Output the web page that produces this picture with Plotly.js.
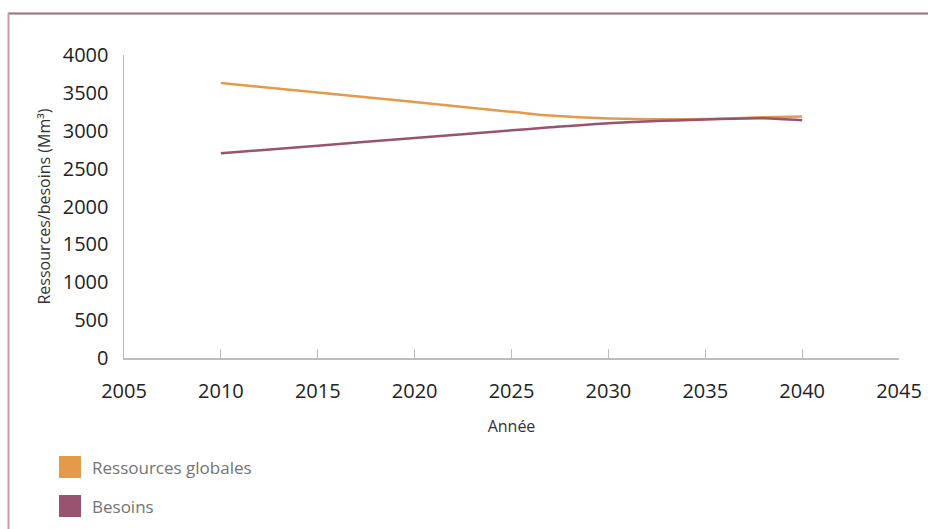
<!DOCTYPE html>
<html>
<head>
<meta charset="utf-8">
<script src="https://cdn.plot.ly/plotly-3.0.1.min.js"></script>
<style>html,body{margin:0;padding:0;background:#fff;}#chart{width:928px;height:529px;}</style>
</head>
<body>
<div id="chart"></div>
<script>
const years = [2010, 2015, 2020, 2025, 2027, 2030, 2035, 2038, 2040];
const ressources = [3630, 3505, 3380, 3250, 3200, 3162, 3155, 3178, 3188];
const besoins = [2702, 2803, 2904, 3005, 3045, 3100, 3150, 3165, 3138];
const seriesNames = ['Ressources globales', 'Besoins'];
const seriesColors = ['#e5994b', '#985370'];
const xTicks = [2005, 2010, 2015, 2020, 2025, 2030, 2035, 2040, 2045];
const yTicks = [0, 500, 1000, 1500, 2000, 2500, 3000, 3500, 4000];

const W = 928, H = 529, L = 124, R = 29, T = 55, B = 171;
const pw = W - L - R, ph = H - T - B;
const px = v => (v - L) / pw;
const py = v => (H - B - v) / ph;

const traces = [
  {x: years, y: ressources, name: seriesNames[0], mode: 'lines', type: 'scatter',
   line: {color: seriesColors[0], width: 2.5, shape: 'spline', smoothing: 1}, showlegend: false},
  {x: years, y: besoins, name: seriesNames[1], mode: 'lines', type: 'scatter',
   line: {color: seriesColors[1], width: 2.5, shape: 'spline', smoothing: 0.8}, showlegend: false}
];

const legendY = [467, 506];
const shapes = [
  {type: 'line', xref: 'paper', yref: 'paper', x0: px(8), x1: px(935), y0: py(13.5), y1: py(13.5), line: {color: '#9a6b80', width: 2}},
  {type: 'line', xref: 'paper', yref: 'paper', x0: px(8.5), x1: px(8.5), y0: py(13), y1: py(535), line: {color: '#c99aae', width: 2}}
];
const annotations = [];
seriesNames.forEach((n, i) => {
  shapes.push({type: 'rect', xref: 'paper', yref: 'paper', x0: px(59), x1: px(81), y0: py(legendY[i] - 11), y1: py(legendY[i] + 11),
    fillcolor: seriesColors[i], line: {width: 0}});
  annotations.push({xref: 'paper', yref: 'paper', x: px(90), y: py(legendY[i]), xanchor: 'left', yanchor: 'middle',
    text: n, showarrow: false, font: {family: 'Open Sans', size: 17, color: '#747474'}});
});

const layout = {
  width: W, height: H,
  margin: {l: L, r: R, t: T, b: B, pad: 0},
  paper_bgcolor: '#fff', plot_bgcolor: '#fff',
  font: {family: 'Open Sans', color: '#222'},
  showlegend: false,
  xaxis: {
    range: [2005, 2045], tickvals: xTicks, ticktext: xTicks.map(String),
    showgrid: false, zeroline: false, showline: true, linecolor: '#bdbdbd', linewidth: 1.5,
    ticks: 'inside', ticklen: 9, tickcolor: '#bdbdbd', tickwidth: 1.2,
    tickfont: {family: 'Open Sans', size: 20, color: '#222'}, ticklabelstandoff: 14,
    title: {text: 'Année', font: {family: 'Open Sans', size: 16, color: '#333'}, standoff: 18}
  },
  yaxis: {
    range: [0, 4000], tickvals: yTicks, ticktext: yTicks.map(String),
    showgrid: false, zeroline: false, showline: true, linecolor: '#bdbdbd', linewidth: 1.5,
    ticks: '', tickfont: {family: 'Open Sans', size: 20, color: '#222'}, ticklabelstandoff: 10,
    title: {text: 'Ressources/besoins (Mm³)', font: {family: 'Open Sans', size: 16, color: '#333'}, standoff: 8}
  },
  shapes: shapes,
  annotations: annotations
};

Plotly.newPlot('chart', traces, layout, {displayModeBar: false, staticPlot: true});
</script>
</body>
</html>
